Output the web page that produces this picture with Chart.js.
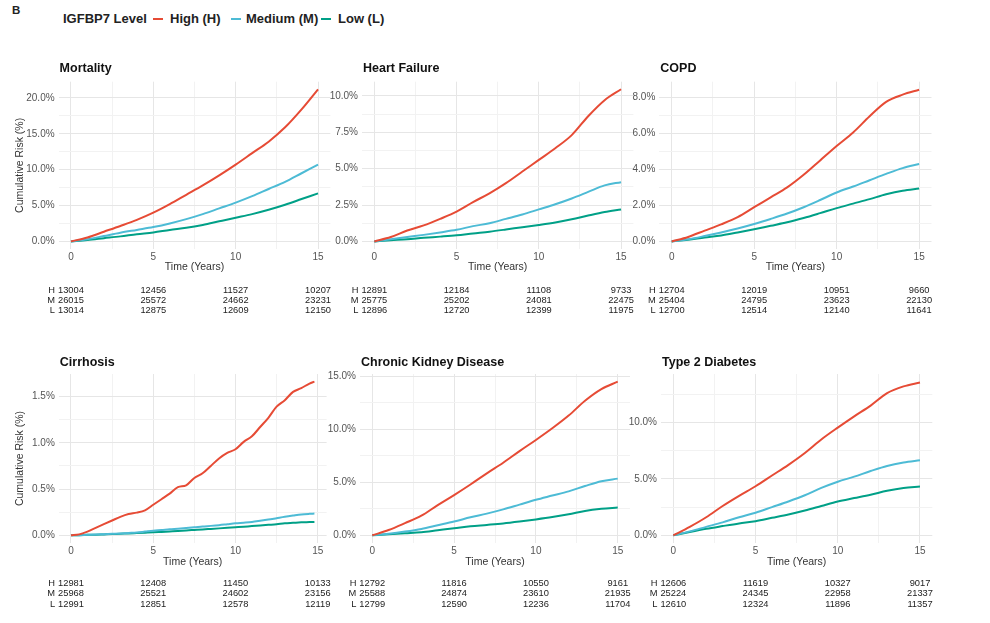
<!DOCTYPE html>
<html><head><meta charset="utf-8">
<script src="https://cdn.jsdelivr.net/npm/chart.js@4.4.1/dist/chart.umd.min.js"></script>
<style>
html,body{margin:0;padding:0;background:#fff}
body{width:990px;height:623px;overflow:hidden;position:relative;font-family:"Liberation Sans",Arial,sans-serif}
canvas{position:absolute}
.lg{position:absolute;font-weight:bold;font-size:13px;color:#222;white-space:nowrap;line-height:16px}
.sw{position:absolute;height:2px}
</style></head><body>
<div class="lg" style="left:12px;top:2px;font-size:11.5px">B</div>
<div class="lg" style="left:63px;top:11px">IGFBP7 Level</div>
<div class="sw" style="left:153px;top:18px;width:10px;background:#E64B35"></div>
<div class="lg" style="left:170px;top:11px">High (H)</div>
<div class="sw" style="left:231px;top:18px;width:10px;background:#4DBBD5"></div>
<div class="lg" style="left:246px;top:11px">Medium (M)</div>
<div class="sw" style="left:321px;top:18px;width:10px;background:#00A087"></div>
<div class="lg" style="left:338px;top:11px">Low (L)</div>

<canvas id="c0" width="335" height="260" style="left:0px;top:58px"></canvas>
<canvas id="c1" width="315" height="260" style="left:322px;top:58px"></canvas>
<canvas id="c2" width="315" height="260" style="left:620px;top:58px"></canvas>
<canvas id="c3" width="335" height="262" style="left:0px;top:350px"></canvas>
<canvas id="c4" width="315" height="262" style="left:322px;top:350px"></canvas>
<canvas id="c5" width="315" height="262" style="left:620px;top:350px"></canvas>

<script>
// ---------------- DATA ----------------
const years = [0,1,2,3,4,5,6,7,8,9,10,11,12,13,14,15];
const cirrhosisYears = [0,0.5,1,1.5,2,2.5,3,3.5,4,4.5,5,5.5,6,6.5,7,7.5,8,8.5,9,9.5,10,10.5,11,11.5,12,12.5,13,13.5,14,14.5,14.8];
const tableTimes = [0,5,10,15];
const groupLabels = ['H','M','L'];
const xTicksMajor = [0,5,10,15];
const xTicksMinor = [2.5,7.5,12.5];

// Mortality
const mortalityHigh   = [0,0.55,1.35,2.15,3.0,4.0,5.2,6.5,7.8,9.2,10.7,12.3,13.9,15.9,18.4,21.2];
const mortalityMedium = [0,0.3,0.75,1.2,1.6,2.0,2.5,3.1,3.8,4.6,5.4,6.3,7.3,8.3,9.5,10.7];
const mortalityLow    = [0,0.2,0.45,0.7,1.0,1.25,1.6,1.9,2.3,2.8,3.3,3.8,4.4,5.1,5.9,6.7];
const mortalityAtRisk = [[13004,12456,11527,10207],[26015,25572,24662,23231],[13014,12875,12609,12150]];
const mortalityYMajor = [0,5,10,15,20];
const mortalityYMinor = [2.5,7.5,12.5,17.5];

// Heart Failure
const hfHigh   = [0,0.3,0.75,1.1,1.55,2.05,2.7,3.3,4.0,4.8,5.6,6.4,7.3,8.6,9.7,10.45];
const hfMedium = [0,0.15,0.3,0.45,0.62,0.8,1.05,1.25,1.55,1.85,2.2,2.55,2.95,3.4,3.85,4.07];
const hfLow    = [0,0.08,0.15,0.25,0.33,0.42,0.55,0.67,0.82,0.98,1.13,1.3,1.52,1.78,2.02,2.2];
const hfAtRisk = [[12891,12184,11108,9733],[25775,25202,24081,22475],[12896,12720,12399,11975]];
const hfYMajor = [0,2.5,5,7.5,10];
const hfYMinor = [1.25,3.75,6.25,8.75];

// COPD
const copdHigh   = [0,0.25,0.6,0.95,1.35,1.9,2.45,3.0,3.7,4.5,5.3,6.05,6.95,7.75,8.15,8.42];
const copdMedium = [0,0.12,0.3,0.5,0.72,0.97,1.25,1.55,1.9,2.3,2.72,3.05,3.4,3.75,4.07,4.3];
const copdLow    = [0,0.1,0.22,0.33,0.5,0.68,0.87,1.06,1.3,1.57,1.85,2.1,2.35,2.62,2.82,2.94];
const copdAtRisk = [[12704,12019,10951,9660],[25404,24795,23623,22130],[12700,12514,12140,11641]];
const copdYMajor = [0,2,4,6,8];
const copdYMinor = [1,3,5,7];

// Cirrhosis
const cirrhosisHigh   = [0,0.01,0.04,0.08,0.12,0.16,0.2,0.23,0.245,0.27,0.33,0.39,0.45,0.52,0.54,0.62,0.67,0.75,0.83,0.89,0.93,1.01,1.07,1.17,1.27,1.39,1.46,1.55,1.59,1.64,1.66];
const cirrhosisMedium = [0,0.002,0.005,0.008,0.012,0.016,0.02,0.025,0.03,0.04,0.05,0.057,0.065,0.071,0.078,0.086,0.095,0.102,0.11,0.12,0.13,0.137,0.145,0.157,0.17,0.185,0.2,0.213,0.225,0.232,0.235];
const cirrhosisLow    = [0,0.002,0.005,0.007,0.01,0.013,0.017,0.02,0.024,0.028,0.032,0.037,0.042,0.047,0.053,0.058,0.063,0.069,0.075,0.081,0.087,0.093,0.1,0.106,0.113,0.12,0.13,0.135,0.14,0.143,0.145];
const cirrhosisAtRisk = [[12981,12408,11450,10133],[25968,25521,24602,23156],[12991,12851,12578,12119]];
const cirrhosisYMajor = [0,0.5,1,1.5];
const cirrhosisYMinor = [0.25,0.75,1.25];

// Chronic Kidney Disease
const ckdHigh   = [0,0.5,1.15,1.85,2.85,3.8,4.8,5.85,6.85,7.95,9.0,10.1,11.3,12.7,13.8,14.5];
const ckdMedium = [0,0.15,0.35,0.6,0.95,1.3,1.7,2.05,2.45,2.9,3.35,3.75,4.15,4.65,5.1,5.35];
const ckdLow    = [0,0.1,0.2,0.3,0.48,0.66,0.85,0.98,1.12,1.3,1.5,1.72,1.98,2.3,2.5,2.62];
const ckdAtRisk = [[12792,11816,10550,9161],[25588,24874,23610,21935],[12799,12590,12236,11704]];
const ckdYMajor = [0,5,10,15];
const ckdYMinor = [2.5,7.5,12.5];

// Type 2 Diabetes
const t2dHigh   = [0,0.75,1.6,2.6,3.5,4.35,5.3,6.25,7.3,8.5,9.55,10.55,11.5,12.6,13.2,13.55];
const t2dMedium = [0,0.35,0.75,1.15,1.6,2.0,2.5,3.0,3.55,4.2,4.75,5.2,5.7,6.15,6.45,6.65];
const t2dLow    = [0,0.3,0.58,0.82,1.05,1.25,1.55,1.85,2.2,2.6,3.0,3.3,3.6,3.95,4.2,4.33];
const t2dAtRisk = [[12606,11619,10327,9017],[25224,24345,22958,21337],[12610,12324,11896,11357]];
const t2dYMajor = [0,5,10];
const t2dYMinor = [2.5,7.5,12.5];

const seriesColors = ['#E64B35','#4DBBD5','#00A087'];
const FONT = '"Liberation Sans", Arial, sans-serif';

// ---------------- PANELS ----------------
const panels = [
  {id:'c0', title:'Mortality', xs:years, series:[mortalityHigh,mortalityMedium,mortalityLow], risk:mortalityAtRisk,
   yMajor:mortalityYMajor, yMinor:mortalityYMinor, yMin:-1.06, yMax:22.26, xMin:-0.75, xMax:15.75, yTitle:true,
   cx:0, cy:58, cw:335, ch:260, L:58.6, R:330.4, T:81.7, B:249, titleY:69, xTitleY:267.5, tableY:290.5, rowGap:10},
  {id:'c1', title:'Heart Failure', xs:years, series:[hfHigh,hfMedium,hfLow], risk:hfAtRisk,
   yMajor:hfYMajor, yMinor:hfYMinor, yMin:-0.52, yMax:10.97, xMin:-0.75, xMax:15.75, yTitle:false,
   cx:322, cy:58, cw:315, ch:260, L:362, R:633.4, T:81.7, B:249, titleY:69, xTitleY:267.5, tableY:290.5, rowGap:10},
  {id:'c2', title:'COPD', xs:years, series:[copdHigh,copdMedium,copdLow], risk:copdAtRisk,
   yMajor:copdYMajor, yMinor:copdYMinor, yMin:-0.42, yMax:8.87, xMin:-0.75, xMax:15.75, yTitle:false,
   cx:620, cy:58, cw:315, ch:260, L:659.3, R:931.5, T:81.7, B:249, titleY:69, xTitleY:267.5, tableY:290.5, rowGap:10},
  {id:'c3', title:'Cirrhosis', xs:cirrhosisYears, series:[cirrhosisHigh,cirrhosisMedium,cirrhosisLow], risk:cirrhosisAtRisk,
   yMajor:cirrhosisYMajor, yMinor:cirrhosisYMinor, yMin:-0.083, yMax:1.743, xMin:-0.74, xMax:15.54, yTitle:true,
   cx:0, cy:350, cw:335, ch:262, L:58.8, R:326.6, T:374, B:543, titleY:362.7, xTitleY:561.7, tableY:583.3, rowGap:10.4},
  {id:'c4', title:'Chronic Kidney Disease', xs:years, series:[ckdHigh,ckdMedium,ckdLow], risk:ckdAtRisk,
   yMajor:ckdYMajor, yMinor:ckdYMinor, yMin:-0.725, yMax:15.225, xMin:-0.75, xMax:15.75, yTitle:false,
   cx:322, cy:350, cw:315, ch:262, L:360, R:630, T:374, B:543, titleY:362.7, xTitleY:561.7, tableY:583.3, rowGap:10.4},
  {id:'c5', title:'Type 2 Diabetes', xs:years, series:[t2dHigh,t2dMedium,t2dLow], risk:t2dAtRisk,
   yMajor:t2dYMajor, yMinor:t2dYMinor, yMin:-0.68, yMax:14.3, xMin:-0.75, xMax:15.75, yTitle:false,
   cx:620, cy:350, cw:315, ch:262, L:661, R:932.3, T:374, B:543, titleY:362.7, xTitleY:561.7, tableY:583.3, rowGap:10.4}
];

function makePanelPlugin(p) {
  return {
    id: 'panelText_' + p.id,
    afterDraw(chart) {
      const {ctx, chartArea} = chart;
      const xs = chart.scales.x;
      ctx.save();
      ctx.fillStyle = '#111';
      ctx.font = 'bold 12.5px ' + FONT;
      ctx.textAlign = 'left';
      ctx.textBaseline = 'middle';
      ctx.fillText(p.title, chartArea.left + 1, p.titleY - p.cy);
      ctx.font = '9.3px ' + FONT;
      ctx.fillStyle = '#222';
      p.risk.forEach((row, r) => {
        const y = p.tableY - p.cy + r * p.rowGap;
        row.forEach((n, j) => {
          const px = xs.getPixelForValue(tableTimes[j]);
          const s = String(n);
          ctx.textAlign = 'center';
          ctx.fillText(s, px, y);
          if (j === 0) {
            const w = ctx.measureText(s).width;
            ctx.textAlign = 'right';
            ctx.fillText(groupLabels[r], px - w / 2 - 3, y);
          }
        });
      });
      ctx.restore();
    }
  };
}

panels.forEach(p => {
  const xTicksAll = xTicksMajor.concat(xTicksMinor).sort((a,b)=>a-b);
  const yTicksAll = p.yMajor.concat(p.yMinor).sort((a,b)=>a-b);
  const axisTitleSize = 10.5;
  const lh = axisTitleSize * 1.2;
  const xTitlePadBottom = (p.cy + p.ch) - p.xTitleY - lh / 2;
  new Chart(document.getElementById(p.id), {
    type: 'line',
    data: {
      datasets: p.series.map((vals, i) => ({
        label: groupLabels[i],
        data: p.xs.map((x, k) => ({x: x, y: vals[k]})),
        borderColor: seriesColors[i],
        borderWidth: 2,
        pointRadius: 0,
        fill: false,
        cubicInterpolationMode: 'monotone'
      }))
    },
    options: {
      responsive: false,
      animation: false,
      events: [],
      layout: {padding: {left: 0, top: p.T - p.cy, right: p.cw - (p.R - p.cx), bottom: 0}},
      plugins: {legend: {display: false}, tooltip: {enabled: false}, title: {display: false}},
      scales: {
        x: {
          type: 'linear', min: p.xMin, max: p.xMax,
          afterFit: s => { s.height = (p.cy + p.ch) - p.B; },
          afterBuildTicks: s => { s.ticks = xTicksAll.map(v => ({value: v})); },
          ticks: {autoSkip: false, maxRotation: 0, padding: 2, color: '#555', font: {size: 10, family: FONT},
                  callback: v => xTicksMajor.includes(v) ? String(v) : ''},
          grid: {drawTicks: false, lineWidth: 1,
                 color: c => (c.tick && xTicksMajor.includes(c.tick.value)) ? '#e6e6e6' : '#f2f2f2'},
          border: {display: false},
          title: {display: true, text: 'Time (Years)', color: '#333', font: {size: axisTitleSize, family: FONT},
                  padding: {top: 0, bottom: xTitlePadBottom}}
        },
        y: {
          type: 'linear', min: p.yMin, max: p.yMax,
          afterFit: s => { s.width = p.L - p.cx; },
          afterBuildTicks: s => { s.ticks = yTicksAll.map(v => ({value: v})); },
          ticks: {autoSkip: false, padding: 4, color: '#555', font: {size: 10, family: FONT},
                  callback: v => p.yMajor.includes(v) ? v.toFixed(1) + '%' : ''},
          grid: {drawTicks: false, lineWidth: 1,
                 color: c => (c.tick && p.yMajor.includes(c.tick.value)) ? '#e6e6e6' : '#f2f2f2'},
          border: {display: false},
          title: {display: p.yTitle, text: 'Cumulative Risk (%)', color: '#333', font: {size: axisTitleSize, family: FONT},
                  padding: {top: 14.3, bottom: 0}}
        }
      }
    },
    plugins: [makePanelPlugin(p)]
  });
});
</script>
</body></html>
